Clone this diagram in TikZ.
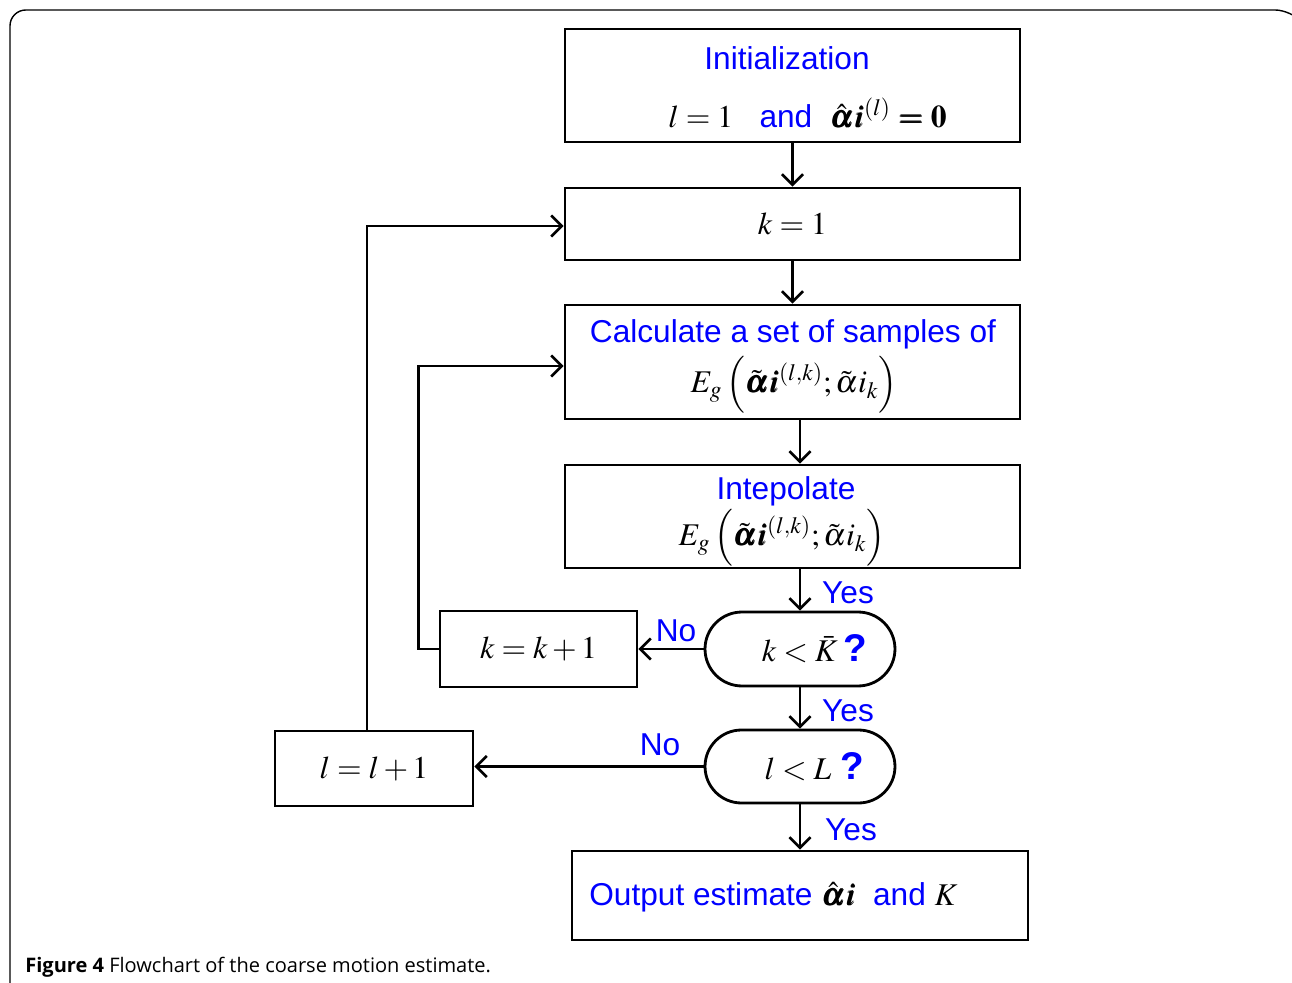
\documentclass[tikz,border=0pt]{standalone}
\usepackage{amsmath}
\usepackage{mathptmx}
\usepackage{bm}
\usepackage[no-math]{fontspec}
\setmainfont{Liberation Sans}
\newfontfamily\capfont{Open Sans}
\usetikzlibrary{arrows.meta,shapes.misc,calc}
\definecolor{tblue}{RGB}{0,0,255}
\tikzset{
  box/.style={draw,line width=1.6pt,rectangle,inner sep=0pt,font=\fontsize{18}{26}\selectfont,align=center},
  term/.style={draw,line width=1.6pt,rounded rectangle,inner sep=0pt,font=\fontsize{18}{24}\selectfont},
  conn/.style={line width=1.5pt,-{Straight Barb[length=6pt,width=12pt,line width=1.5pt]}},
  lbl/.style={text=tblue,font=\fontsize{18}{22}\selectfont,inner sep=0pt},
  txt/.style={inner sep=0pt,font=\fontsize{18}{22}\selectfont},
}
\newcommand{\bt}[1]{\textcolor{tblue}{#1}}
\newcommand{\qm}{\textcolor{tblue}{\fontsize{22}{24}\selectfont\textbf{?}}}
\begin{document}
\begin{tikzpicture}[x=0.02cm,y=-0.02cm]
\useasboundingbox (0,0) rectangle (1292,983);
\draw[line width=0.8pt,rounded corners=9pt] (10,1010) -- (10,10) -- (1291,10) -- (1300,20);
% boxes
\node[box,minimum width=9.1cm,minimum height=2.26cm] (init) at (792.5,85.5) {};
\node[lbl] (initt) at (787,58) {Initialization};
\node[txt,anchor=west] (initl) at (668,113) {$l=1$\ \ \ \bt{and}\ \ $\hat{\bm\alpha}\bm i^{(l)}\bm{=}\mathbf 0$};
\node[box,minimum width=9.1cm,minimum height=1.44cm] (k1) at (792.5,224) {$k=1$};
\node[box,minimum width=9.1cm,minimum height=2.28cm] (calc) at (792.5,362) {};
\node[lbl] (calct) at (793,334) {Calculate a set of samples of};
\node[txt] (calcf) at (794,385) {$E_g\left(\tilde{\bm\alpha}\bm i^{(l,k)};\tilde\alpha i_k\right)$};
\node[box,minimum width=9.1cm,minimum height=2.06cm] (interp) at (792.5,516.5) {};
\node[lbl] (interpt) at (786,491) {Intepolate};
\node[txt] (interpf) at (782,538) {$E_g\left(\tilde{\bm\alpha}\bm i^{(l,k)};\tilde\alpha i_k\right)$};
\node[term,minimum width=3.8cm,minimum height=1.48cm] (dk) at (800,649) {\hspace*{0.9em}$k<\bar K$\,\qm};
\node[box,minimum width=3.94cm,minimum height=1.52cm] (kk) at (538.5,649) {$k=k+1$};
\node[term,minimum width=3.8cm,minimum height=1.46cm] (dl) at (800,766.5) {\hspace*{0.9em}$l<L$\ \qm};
\node[box,minimum width=3.96cm,minimum height=1.5cm] (ll) at (374,768.5) {$l=l+1$};
\node[box,minimum width=9.12cm,minimum height=1.78cm] (out) at (800,895.5) {};
\node[txt,anchor=west] (outt) at (589,897) {\bt{Output estimate} $\hat{\bm\alpha}\bm i$\ \ \bt{and} $K$};
% connectors
\draw[conn] (init.south -| k1) -- (k1.north);
\draw[conn] (k1.south) -- (calc.north);
\draw[conn] (calc.south -| dk) -- (interp.north -| dk);
\draw[conn] (interp.south -| dk) -- (dk.north);
\draw[conn] (dk.south) -- (dl.north);
\draw[conn] (dl.south) -- (out.north);
\draw[conn] (dk.west) -- (kk.east);
\draw[conn] (dl.west) -- (dl.west -| ll.east);
\draw[conn] (kk.west) -- ++(-20,0) |- ($(calc.west)+(0,4)$);
\draw[conn] ($(ll.north)+(-7,0)$) |- ($(k1.west)+(0,2)$);
% labels
\node[lbl] (y1) at (848,593) {Yes};
\node[lbl] (y2) at (848,711) {Yes};
\node[lbl] (y3) at (851,830) {Yes};
\node[lbl] (n1) at (676,631) {No};
\node[lbl] (n2) at (660,745) {No};
\node[anchor=west,inner sep=0pt,font=\capfont\fontsize{11.4}{13}\selectfont] (cap) at (25,967) {\textbf{Figure 4} Flowchart of the coarse motion estimate.};
\end{tikzpicture}
\end{document}
